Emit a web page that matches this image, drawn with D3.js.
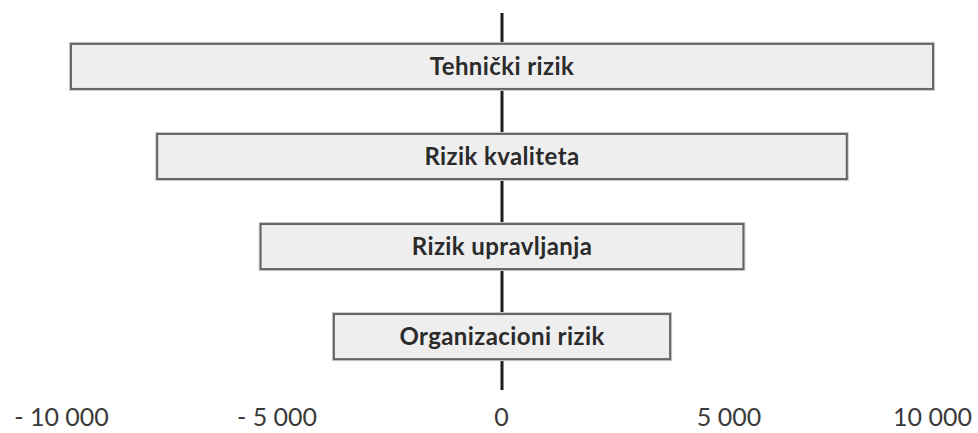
<!DOCTYPE html>
<html>
<head>
<meta charset="utf-8">
<script src="https://cdn.jsdelivr.net/npm/d3@7/dist/d3.min.js"></script>
<style>
  html, body { margin: 0; padding: 0; background: #ffffff; }
  svg { display: block; }
</style>
</head>
<body>
<svg id="chart" width="978" height="433"></svg>
<script>
// ---- data ----
const categories = ["Tehnički rizik", "Rizik kvaliteta", "Rizik upravljanja", "Organizacioni rizik"];
const lowValues  = [-10000, -8000, -5600, -3900];
const highValues = [10000, 8000, 5600, 3900];
const tickValues = [-10000, -5000, 0, 5000, 10000];
const tickLabels = ["- 10 000", "- 5 000", "0", "5 000", "10 000"];

const svg = d3.select("#chart");

const x = d3.scaleLinear().domain([-10000, 10000]).range([71, 933]);
const y = d3.scaleBand().domain(categories).range([21.4, 381.6])
  .paddingInner(0.5).paddingOuter(0.25);

const rows = categories.map((c, i) => ({ cat: c, lo: lowValues[i], hi: highValues[i] }));

// central axis line
svg.append("line")
  .attr("x1", x(0)).attr("x2", x(0))
  .attr("y1", 13).attr("y2", 390)
  .attr("stroke", "#1e1e1e").attr("stroke-width", 3);

const g = svg.append("g");
// soft outer halo
g.selectAll("rect.halo").data(rows).join("rect")
  .attr("class", "halo")
  .attr("x", d => x(d.lo)).attr("width", d => x(d.hi) - x(d.lo))
  .attr("y", d => y(d.cat)).attr("height", y.bandwidth())
  .attr("fill", "none").attr("stroke", "#c8c8c8").attr("stroke-width", 4);
g.selectAll("rect.bar").data(rows).join("rect")
  .attr("class", "bar")
  .attr("x", d => x(d.lo)).attr("width", d => x(d.hi) - x(d.lo))
  .attr("y", d => y(d.cat)).attr("height", y.bandwidth())
  .attr("fill", "#eeeeee").attr("stroke", "#666666").attr("stroke-width", 2);

g.selectAll("text.lbl").data(rows).join("text")
  .attr("class", "lbl")
  .attr("x", x(0))
  .attr("y", d => y(d.cat) + y.bandwidth() / 2)
  .attr("dy", "0.34em")
  .attr("text-anchor", "middle")
  .attr("font-family", "Lato, 'Open Sans', sans-serif")
  .attr("font-weight", "bold")
  .attr("font-size", 24)
  .attr("letter-spacing", 0.4)
  .attr("fill", "#2b2b2b")
  .text(d => d.cat);

// bottom tick labels
const axis = d3.axisBottom(x).tickValues(tickValues).tickSize(0)
  .tickFormat((d, i) => tickLabels[i]);
const ag = svg.append("g").attr("transform", "translate(0,400)").call(axis);
ag.select(".domain").remove();
ag.selectAll("text")
  .attr("font-family", "Lato, 'Open Sans', sans-serif")
  .attr("font-size", 25)
  .attr("fill", "#3a3a3a")
  .attr("dy", "0.9em")
  .attr("dx", d => d < 0 ? -10 : (d > 0 && d < 10000 ? 11 : -1));
</script>
</body>
</html>
